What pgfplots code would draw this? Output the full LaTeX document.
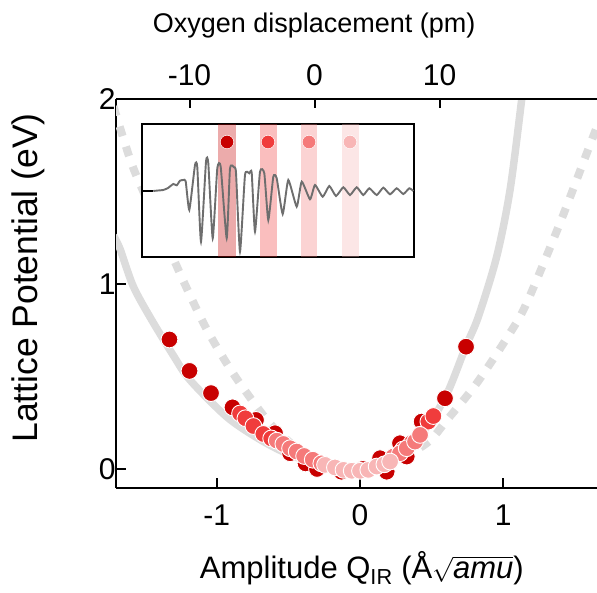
\documentclass[border=0pt]{standalone}
\usepackage{pgfplots}
\pgfplotsset{compat=1.18}
\usepackage{fontspec}
\setmainfont{Liberation Sans}
\definecolor{cA}{RGB}{200,0,0}
\definecolor{cB}{RGB}{240,60,60}
\definecolor{cC}{RGB}{245,122,122}
\definecolor{cD}{RGB}{248,182,182}
\definecolor{curvegray}{RGB}{220,220,220}
\definecolor{tracegray}{RGB}{110,110,110}
\begin{document}
\begin{tikzpicture}[x=1pt,y=1pt]
\path[use as bounding box] (0,0) rectangle (597,592);
% main axis
\begin{axis}[
  at={(116pt,104pt)}, anchor=south west,
  width=481pt, height=389pt, scale only axis,
  xmin=-1.703, xmax=1.654, ymin=-0.103, ymax=2.0,
  axis x line*=bottom, axis y line*=left,
  axis line style={-, line width=2.3pt},
  tick align=inside,
  major tick length=10pt,
  tick style={line width=2pt, black},
  xtick={-1,0,1}, xticklabels={-1,0,1},
  ytick={0,1,2}, yticklabels={0,1,2},
  ticklabel style={font=\fontsize{30}{34}\selectfont},
  xticklabel style={yshift=-13pt},
  yticklabel style={xshift=3pt},
  xlabel={Amplitude Q\textsubscript{IR} (Å$\sqrt{\mbox{\itshape amu}}$)},
  xlabel style={at={(axis description cs:0.511,-0.206)}, anchor=center, font=\fontsize{31}{36}\selectfont},
  ylabel={Lattice Potential (eV)},
  ylabel style={at={(axis description cs:-0.183,0.54)}, anchor=center, font=\fontsize{35.5}{40}\selectfont},
  clip=true,
]
% dashed gray curve
\addplot[curvegray, line width=8pt, dash pattern=on 10pt off 11pt, smooth] coordinates {
(-1.72,1.96) (-1.584,1.63) (-1.40,1.31) (-1.235,1.02) (-1.08,0.77) (-0.93,0.57) (-0.79,0.41) (-0.61,0.23) (-0.40,0.09) (-0.20,0.02) (0,0) (0.20,0.025) (0.467,0.14) (0.607,0.265) (0.816,0.465) (1.047,0.735) (1.165,0.90) (1.396,1.33) (1.626,1.795) (1.67,1.88)};
% solid gray curve
\addplot[curvegray, line width=7.5pt, smooth] coordinates {
(-1.72,1.26) (-1.675,1.19) (-1.584,0.99) (-1.465,0.82) (-1.30,0.61) (-1.186,0.48) (-0.928,0.28) (-0.70,0.16) (-0.50,0.08) (-0.30,0.03) (0,0) (0.20,0.04) (0.40,0.16) (0.593,0.384) (0.74,0.665) (0.826,0.823) (0.954,1.148) (1.047,1.508) (1.128,1.995) (1.14,2.08)};
% data points, darkest first
\addplot[only marks, mark=*, mark size=8.4pt, color=cA, mark options={draw=white, line width=0.9pt}] coordinates {
(-1.33,0.70) (-1.19,0.53) (-1.04,0.41) (-0.89,0.333) (-0.726,0.265) (-0.593,0.193) (-0.488,0.085) (-0.38,0.03) (-0.30,0.0) (-0.13,-0.015) (0.02,0.0) (0.14,0.058) (0.186,-0.015) (0.279,0.139) (0.326,0.067) (0.43,0.256) (0.593,0.382) (0.74,0.661)};
\addplot[only marks, mark=*, mark size=8.4pt, color=cB, mark options={draw=white, line width=0.9pt}] coordinates {
(-0.837,0.30) (-0.80,0.274) (-0.744,0.232) (-0.675,0.189) (-0.62,0.165) (0.30,0.105) (0.36,0.14) (0.42,0.185) (0.477,0.256) (0.512,0.286)};
\addplot[only marks, mark=*, mark size=8.4pt, color=cC, mark options={draw=white, line width=0.9pt}] coordinates {
(-0.581,0.153) (-0.535,0.135) (-0.488,0.112) (-0.442,0.094) (-0.39,0.07) (-0.33,0.05) (-0.27,0.03) (0.233,0.067) (0.279,0.085) (0.326,0.112) (0.384,0.148) (0.419,0.184)};
\addplot[only marks, mark=*, mark size=8.4pt, color=cD, mark options={draw=white, line width=0.9pt}] coordinates {
(-0.244,0.022) (-0.175,0.008) (-0.115,-0.005) (-0.058,-0.01) (0.0,-0.01) (0.058,-0.005) (0.116,0.013) (0.17,0.025) (0.21,0.04)};
\end{axis}
% top axis
\begin{axis}[
  at={(116pt,104pt)}, anchor=south west,
  width=481pt, height=389pt, scale only axis,
  xmin=-15.88, xmax=22.6, ymin=0, ymax=1,
  axis x line*=top, axis y line=none,
  axis line style={-, line width=2.3pt},
  tick align=inside,
  major tick length=9pt,
  tick style={line width=2pt, black},
  xtick={-10,0,10}, xticklabels={-10,0,10},
  ytick=\empty,
  ticklabel style={font=\fontsize{30}{34}\selectfont},
  xticklabel style={yshift=10pt},
  xlabel={Oxygen displacement (pm)},
  xlabel style={at={(axis description cs:0.412,1.19)}, anchor=center, font=\fontsize{27}{32}\selectfont},
]
\addplot[draw=none] coordinates {(0,0.5)};
\end{axis}
% inset
\begin{axis}[
  at={(142pt,335pt)}, anchor=south west,
  width=272pt, height=133pt, scale only axis,
  xmin=0, xmax=272, ymin=0, ymax=133,
  axis background/.style={fill=white},
  axis line style={line width=2.3pt},
  xtick=\empty, ytick=\empty,
]
\addplot[fill=cA, fill opacity=0.33, draw=none] coordinates {(76,0) (76,133) (94,133) (94,0)} -- cycle;
\addplot[fill=cB, fill opacity=0.33, draw=none] coordinates {(118,0) (118,133) (135,133) (135,0)} -- cycle;
\addplot[fill=cC, fill opacity=0.33, draw=none] coordinates {(159,0) (159,133) (175,133) (175,0)} -- cycle;
\addplot[fill=cD, fill opacity=0.33, draw=none] coordinates {(200,0) (200,133) (217,133) (217,0)} -- cycle;
\addplot[black, line width=2.3pt] coordinates {(0,66) (11.3,66)};
\addplot[tracegray, line width=1.9pt, smooth, tension=0.3] coordinates {
(11.3,66) (16,66.5) (21.3,67) (26,69) (31.3,73) (34.7,71.7) (38,76.3) (41.3,77) (43.7,75.7) (47.3,47) (53,92) (55.3,89.7) (59,15.3) (64,95.3) (66.3,93.7) (70.7,18.7) (75.3,88.7) (78.7,90.3) (84.7,18.7) (88,88.7) (92,89.7) (94,84.3) (98,5.3) (103,82) (107.3,83.7) (109.7,84.3) (113,25.3) (118,85.3) (122.3,83.7) (126.3,37) (131.3,80.3) (134.7,78.7) (140.7,43) (146.3,77) (154.7,50.3) (159.7,75.3) (168,57.7) (173,72) (180.7,60.3) (187.3,71) (194,61) (201.3,69.7) (208,62) (214.7,69.7) (221.3,62) (227.3,68.7) (234.7,62) (241.3,69.3) (248,62.7) (254.7,68.7) (261.3,63) (267.3,68.7) (271.3,66)};
\addplot[only marks, mark=*, mark size=6.8pt, color=cA, mark options={draw=white, line width=0.5pt}] coordinates {(85,115)};
\addplot[only marks, mark=*, mark size=6.8pt, color=cB, mark options={draw=white, line width=0.5pt}] coordinates {(126,115)};
\addplot[only marks, mark=*, mark size=6.8pt, color=cC, mark options={draw=white, line width=0.5pt}] coordinates {(167,115)};
\addplot[only marks, mark=*, mark size=6.8pt, color=cD, mark options={draw=white, line width=0.5pt}] coordinates {(208,115)};
\end{axis}
\end{tikzpicture}
\end{document}
